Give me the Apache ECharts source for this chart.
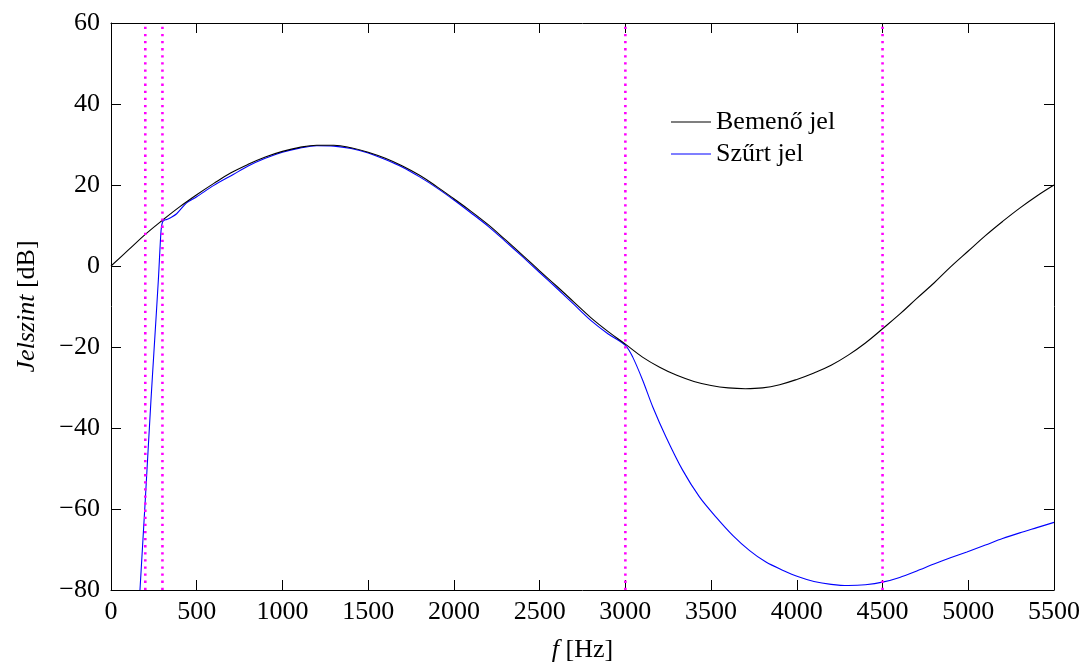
<!DOCTYPE html>
<html>
<head>
<meta charset="utf-8">
<title>Jelszint</title>
<script src="https://cdn.jsdelivr.net/npm/echarts@6/dist/echarts.min.js"></script>
<style>
  html, body { margin: 0; padding: 0; background: #fff; }
  #chart { width: 1088px; height: 668px; }
</style>
</head>
<body>
<div id="chart"></div>
<script>
// Input signal level (dB) against frequency (Hz)
const freqInput = [0, 100, 200, 300, 400, 500, 600, 700, 800, 900, 1000, 1100, 1200, 1300, 1400, 1500,
  1600, 1700, 1800, 1900, 2000, 2100, 2200, 2300, 2400, 2500, 2600, 2700, 2800, 2900, 3000,
  3100, 3200, 3300, 3400, 3500, 3600, 3700, 3800, 3900, 4000, 4100, 4200, 4300, 4400, 4500,
  4600, 4700, 4800, 4900, 5000, 5100, 5200, 5300, 5400, 5500];
const levelInput = [0, 3.9, 7.8, 11.3, 14.6, 17.6, 20.4, 23.0, 25.1, 26.9, 28.3, 29.3, 29.8, 29.8, 29.2, 28.1,
  26.6, 24.7, 22.4, 19.6, 16.6, 13.5, 10.2, 6.5, 2.7, -1.2, -5.0, -8.9, -12.8, -16.2, -19.3,
  -22.5, -25.0, -27.0, -28.5, -29.5, -30.1, -30.3, -30.1, -29.3, -28.0, -26.4, -24.5, -22.0, -19.0, -15.5,
  -11.9, -8.0, -4.2, -0.1, 3.7, 7.5, 11.0, 14.3, 17.3, 20.0];

// Filtered signal level (dB) against frequency (Hz)
const freqFiltered = [169, 200, 233, 250, 276, 292, 300, 310, 325, 350, 383, 441, 500, 600, 713, 800, 900,
  1000, 1100, 1200, 1300, 1400, 1500, 1600, 1700, 1800, 1900, 2000, 2100, 2200, 2300, 2400,
  2500, 2600, 2700, 2800, 2900, 3000, 3043, 3101, 3160, 3237, 3334, 3432, 3529, 3626, 3723,
  3820, 3917, 4014, 4100, 4200, 4300, 4400, 4506, 4600, 4700, 4800, 4900, 4992, 5100, 5200,
  5300, 5400, 5500];
const levelFiltered = [-80, -57.7, -33.2, -21.5, -3.6, 8.8, 10.8, 11.3, 11.5, 12.0, 12.9, 15.6, 17.1, 19.9, 22.6, 24.7, 26.6,
  28.1, 29.1, 29.7, 29.6, 29.0, 27.9, 26.3, 24.4, 22.0, 19.3, 16.3, 13.1, 9.8, 6.1, 2.3,
  -1.6, -5.5, -9.5, -13.5, -16.8, -19.6, -22.5, -28.2, -34.8, -42.2, -50.4, -57.0, -62.0, -66.5, -70.2,
  -73.1, -75.1, -76.8, -77.9, -78.6, -78.9, -78.7, -78.0, -76.9, -75.3, -73.6, -72.0, -70.6, -68.9, -67.3,
  -65.9, -64.6, -63.3];

// Band edge markers (Hz)
const bandEdges = [200, 300, 3000, 4500];

const seriesNames = ['Bemenő jel', 'Szűrt jel'];
const xTicks = { min: 0, max: 5500, step: 500 };
const yTicks = { min: -80, max: 60, step: 20 };

const FONT = 'Liberation Serif';
const pairs = (xs, ys) => xs.map((x, i) => [x, ys[i]]);
const minus = v => String(v).replace('-', '\u2212');

function axisBase(extra) {
  return Object.assign({
    type: 'value',
    axisLine: { show: true, onZero: false, lineStyle: { color: '#000', width: 1 } },
    axisTick: { show: true, inside: true, length: 10, lineStyle: { color: '#000', width: 1 } },
    splitLine: { show: false }
  }, extra);
}

const nameStyle = {
  color: '#000', fontFamily: FONT, fontSize: 26,
  rich: { i: { fontFamily: FONT, fontSize: 26, fontStyle: 'italic', color: '#000' } }
};

// Dotted vertical markers, each spanning the full level range
const edgeSeries = bandEdges.map(f => ({
  type: 'line',
  data: [[f, yTicks.min], [f, yTicks.max]],
  symbol: 'none',
  silent: true,
  lineStyle: { color: '#ff00ff', type: [2.3, 4.8], width: 2.6 },
  z: 4
}));

const chart = echarts.init(document.getElementById('chart'), null, { renderer: 'canvas' });

chart.setOption({
  animation: false,
  backgroundColor: '#fff',
  grid: { left: 111, right: 34, top: 23, bottom: 77 },
  legend: {
    orient: 'vertical',
    left: 666,
    top: 104,
    icon: 'rect',
    itemWidth: 40,
    itemHeight: 1.2,
    itemGap: 6,
    data: seriesNames,
    textStyle: { fontFamily: FONT, fontSize: 26, color: '#000' }
  },
  xAxis: [
    axisBase({
      position: 'bottom',
      min: xTicks.min, max: xTicks.max, interval: xTicks.step,
      axisLabel: { color: '#000', fontFamily: FONT, fontSize: 26, margin: 9, formatter: v => String(v) },
      name: '{i|f} [Hz]',
      nameLocation: 'middle',
      nameGap: 47,
      nameTextStyle: nameStyle
    }),
    axisBase({
      position: 'top',
      min: xTicks.min, max: xTicks.max, interval: xTicks.step,
      axisLabel: { show: false }
    })
  ],
  yAxis: [
    axisBase({
      position: 'left',
      min: yTicks.min, max: yTicks.max, interval: yTicks.step,
      axisLabel: { color: '#000', fontFamily: FONT, fontSize: 26, margin: 11, formatter: minus },
      name: '{i|Jelszint} [dB]',
      nameLocation: 'middle',
      nameGap: 71,
      nameTextStyle: nameStyle
    }),
    axisBase({
      position: 'right',
      min: yTicks.min, max: yTicks.max, interval: yTicks.step,
      axisLabel: { show: false }
    })
  ],
  series: [
    {
      name: seriesNames[0],
      type: 'line',
      data: pairs(freqInput, levelInput),
      symbol: 'none',
      smooth: 0.4,
      lineStyle: { color: '#000', width: 1.1 },
      itemStyle: { color: '#000' },
      z: 3
    },
    {
      name: seriesNames[1],
      type: 'line',
      data: pairs(freqFiltered, levelFiltered),
      symbol: 'none',
      smooth: 0.3,
      lineStyle: { color: '#0000ff', width: 1.1 },
      itemStyle: { color: '#0000ff' },
      z: 2
    }
  ].concat(edgeSeries)
});
</script>
</body>
</html>
